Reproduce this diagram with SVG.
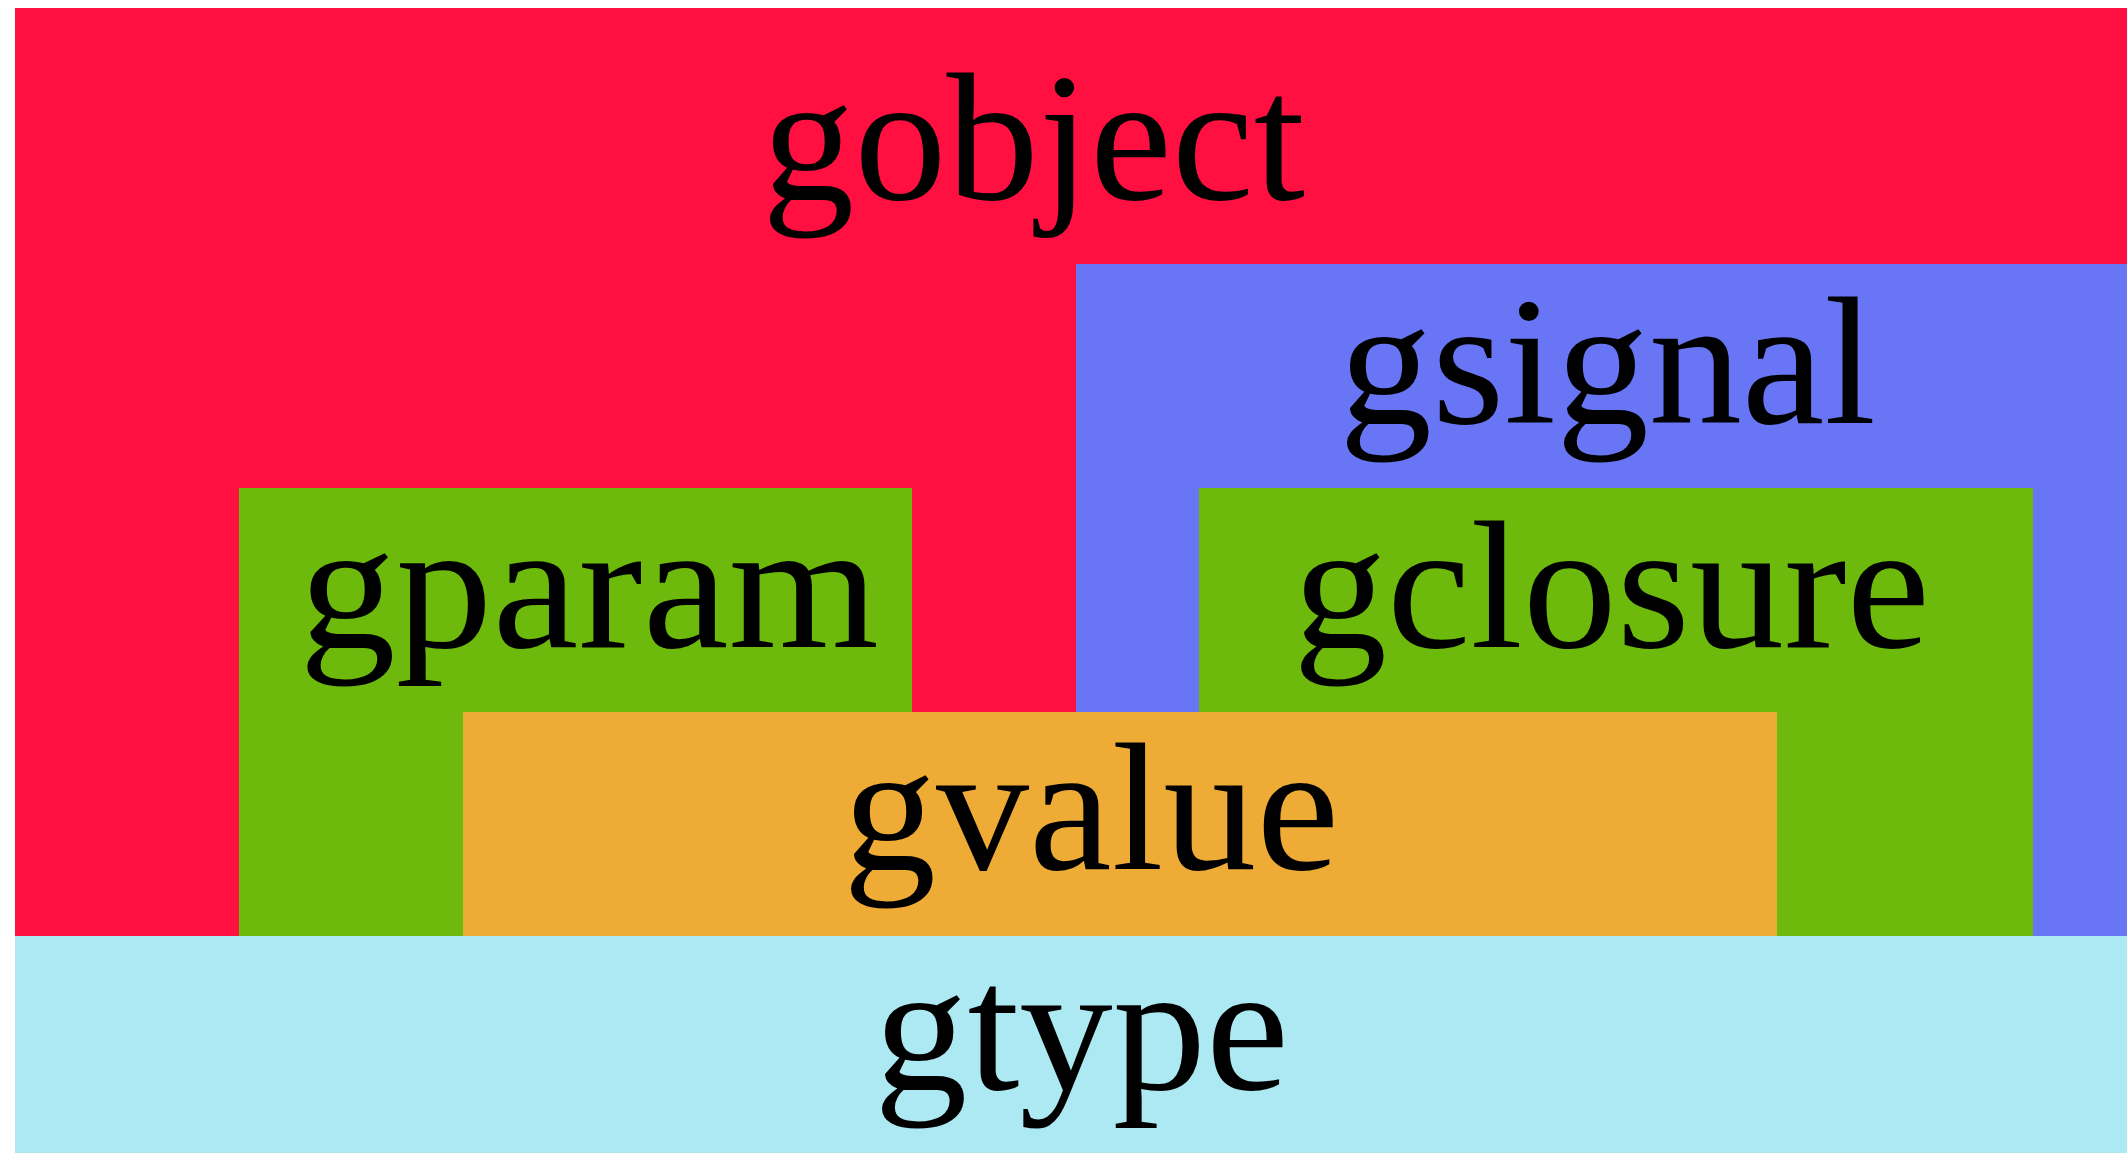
<svg xmlns="http://www.w3.org/2000/svg" width="2127" height="1153" viewBox="0 0 2127 1153">
<style>
text{font-family:"Liberation Serif","DejaVu Serif",serif;font-size:182px;fill:#000}
.red{fill:#ff1040}.blue{fill:#6876f5}.green{fill:#6dba0c}.orange{fill:#eeac37}.cyan{fill:#ace9f2}
</style>
<rect width="2127" height="1153" fill="#fff"/>
<g id="gobject"><rect class="red" x="15" y="8" width="2112" height="928"/><text x="762" y="199" textLength="543" lengthAdjust="spacingAndGlyphs">gobject</text></g>
<g id="gsignal"><rect class="blue" x="1076" y="264" width="1051" height="672"/><text x="1339" y="423" textLength="537" lengthAdjust="spacingAndGlyphs">gsignal</text></g>
<g id="gparam"><rect class="green" x="239" y="488" width="673" height="448"/><text x="299" y="647" textLength="580" lengthAdjust="spacingAndGlyphs">gparam</text></g>
<g id="gclosure"><rect class="green" x="1199" y="488" width="834" height="448"/><text x="1293" y="647" textLength="637" lengthAdjust="spacingAndGlyphs">gclosure</text></g>
<g id="gvalue"><rect class="orange" x="463" y="712" width="1314" height="224"/><text x="843" y="869" textLength="496" lengthAdjust="spacingAndGlyphs">gvalue</text></g>
<g id="gtype"><rect class="cyan" x="15" y="936" width="2112" height="217"/><text x="874" y="1089" textLength="415" lengthAdjust="spacingAndGlyphs">gtype</text></g>
<g id="connectors"/>
</svg>
